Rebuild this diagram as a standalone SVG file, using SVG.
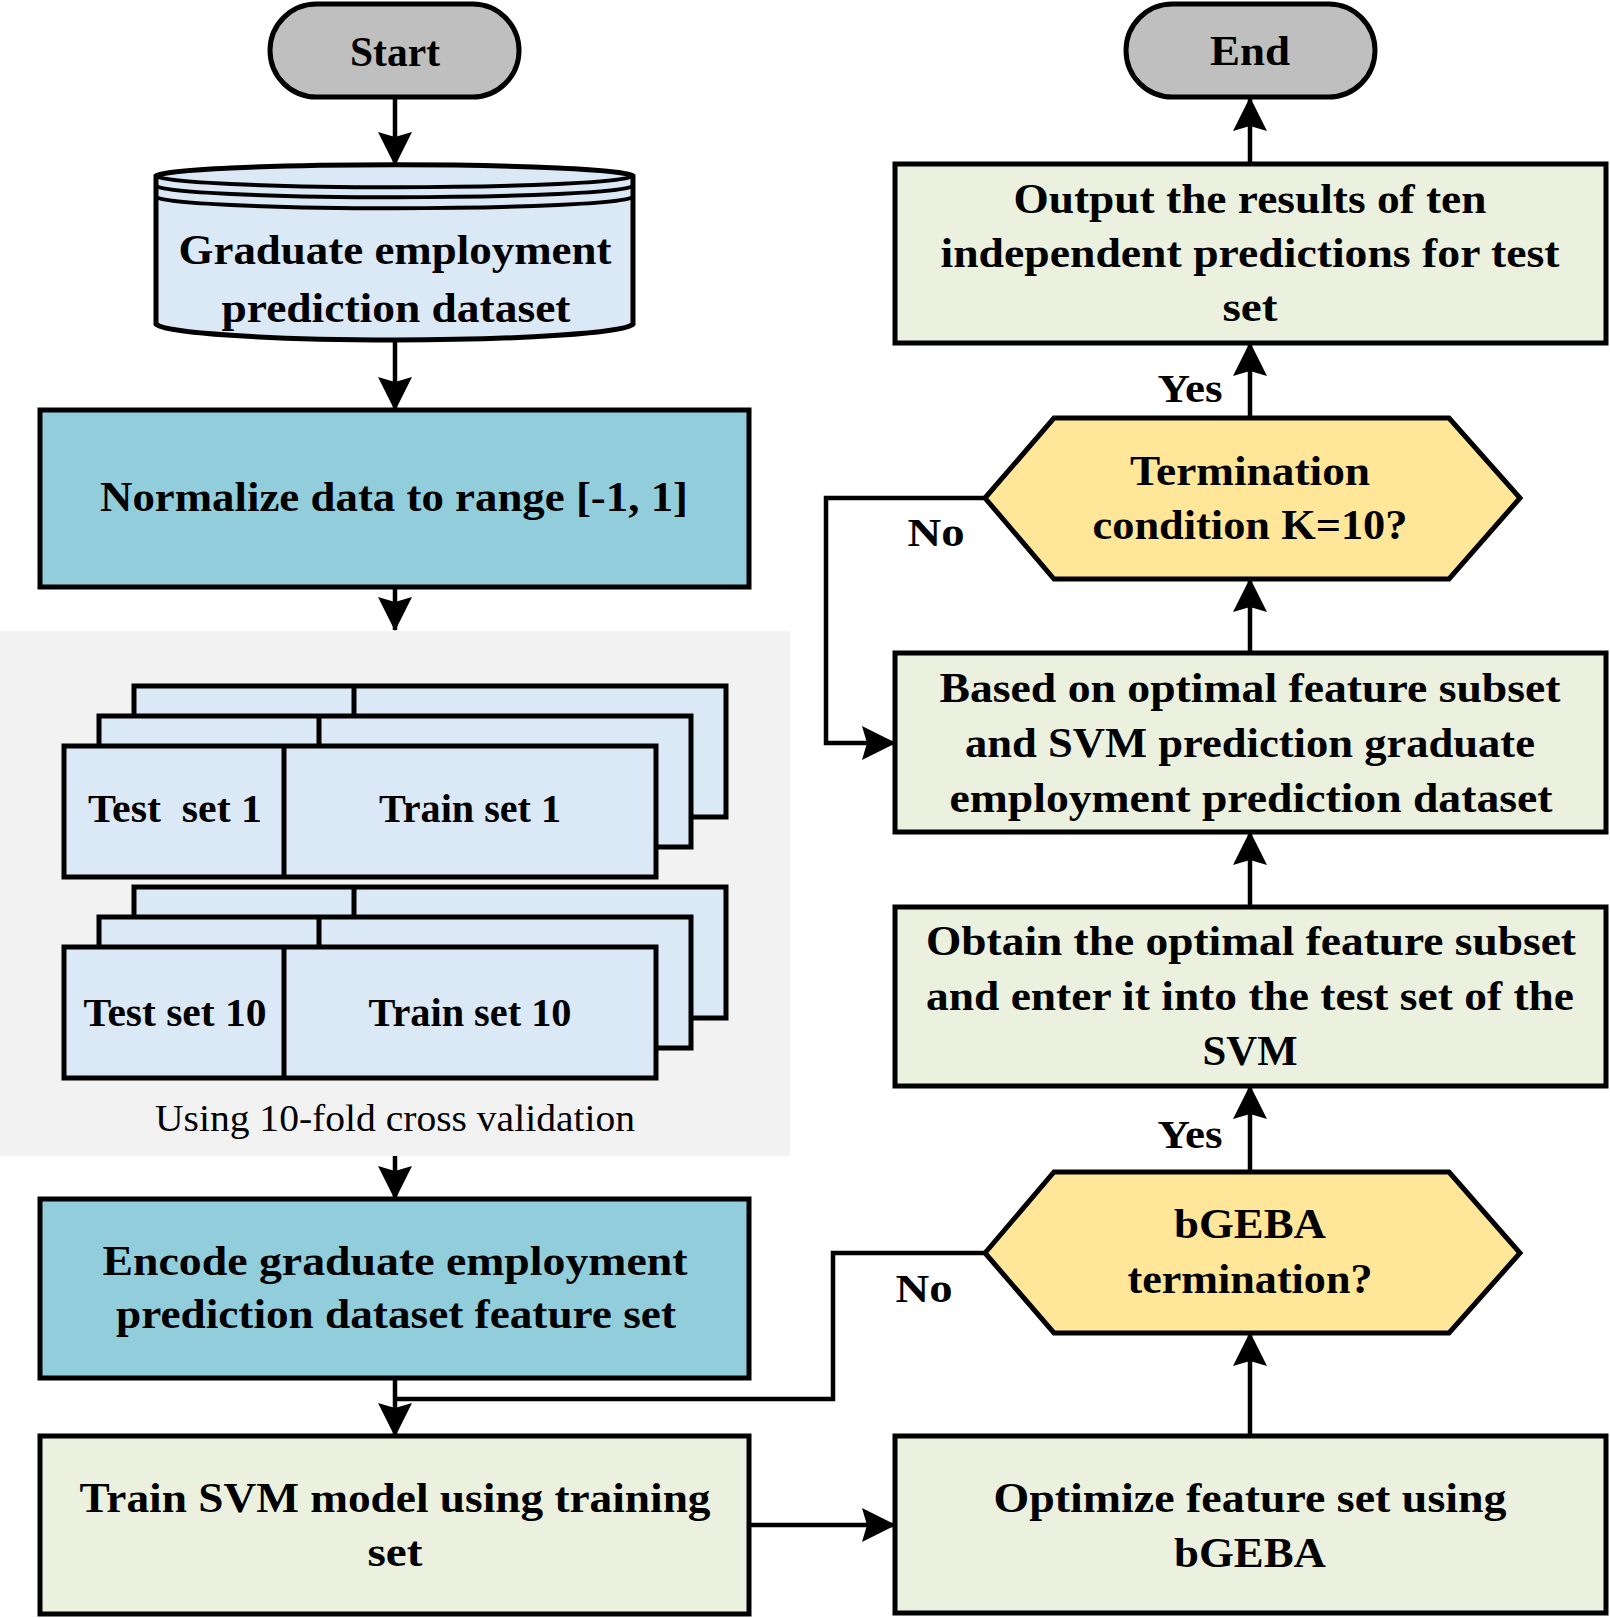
<svg xmlns="http://www.w3.org/2000/svg" width="1610" height="1618" viewBox="0 0 1610 1618">
<style>
.t{font-family:"Liberation Serif","Times New Roman",serif;font-weight:bold;font-size:43px;fill:#000;text-anchor:middle}
.s{font-size:40px}
.r{font-family:"Liberation Serif","Times New Roman",serif;font-weight:normal;font-size:38px;fill:#000;text-anchor:middle}
.box{stroke:#000;stroke-width:5;stroke-linejoin:miter}
.pill{fill:#BFBFBF;stroke:#000;stroke-width:5}
.blue{fill:#92CDDC}
.green{fill:#EBF1DE}
.light{fill:#DBE8F5}
.hex{fill:#FFE699;stroke:#000;stroke-width:5}
.c{fill:none;stroke:#000;stroke-width:4.5}
.a{marker-end:url(#ah)}
</style>
<defs>
<marker id="ah" markerUnits="userSpaceOnUse" markerWidth="34" markerHeight="36" viewBox="0 0 34 36" refX="33" refY="18" orient="auto">
<path d="M0,1 L34,18 L0,35 L5,18 Z" fill="#000"/>
</marker>
</defs>

<rect id="cv-region" x="0" y="631" width="790" height="525" fill="#F2F2F2"/>

<g id="connectors">
<path class="c a" d="M395,97 V165"/>
<path class="c a" d="M395,340 V410"/>
<path class="c a" d="M395,587 V630"/>
<path class="c a" d="M395,1156 V1199"/>
<path class="c a" d="M395,1378 V1436"/>
<path class="c" d="M985,1253 H833 V1399 H395"/>
<path class="c a" d="M749,1525 H895"/>
<path class="c a" d="M1250,1436 V1333"/>
<path class="c a" d="M1250,1172 V1086"/>
<path class="c a" d="M1250,907 V832"/>
<path class="c a" d="M1250,653 V579"/>
<path class="c a" d="M985,498 H826 V743 H895"/>
<path class="c a" d="M1250,418 V343"/>
<path class="c a" d="M1250,164 V98"/>
</g>

<g id="start">
<rect class="pill" x="270" y="4" width="249" height="93" rx="46.5"/>
<text class="t" x="395" y="66" textLength="90" lengthAdjust="spacingAndGlyphs">Start</text>
</g>

<g id="dataset">
<path class="box light" d="M156,176 A239,12 0 0 1 633,176 V324 A239,17 0 0 1 156,324 Z"/>
<path fill="none" stroke="#000" stroke-width="4" d="M156,176 A239,12 0 0 0 633,176 M156,186 A239,12 0 0 0 633,186 M156,197 A239,12 0 0 0 633,197"/>
<text class="t" x="395" y="264" textLength="433" lengthAdjust="spacingAndGlyphs">Graduate employment</text>
<text class="t" x="396" y="322" textLength="349" lengthAdjust="spacingAndGlyphs">prediction dataset</text>
</g>

<g id="normalize">
<rect class="box blue" x="40" y="410" width="709" height="177"/>
<text class="t" x="394" y="511" textLength="588" lengthAdjust="spacingAndGlyphs">Normalize data to range [-1, 1]</text>
</g>

<g id="fold1">
<rect class="box light" x="134" y="686" width="592" height="131"/>
<line x1="354" y1="686" x2="354" y2="716" stroke="#000" stroke-width="5"/>
<rect class="box light" x="99" y="716" width="592" height="131"/>
<line x1="319" y1="716" x2="319" y2="746" stroke="#000" stroke-width="5"/>
<rect class="box light" x="64" y="746" width="592" height="131"/>
<line x1="284" y1="746" x2="284" y2="877" stroke="#000" stroke-width="5"/>
<text class="t s" x="175" y="822" xml:space="preserve" textLength="174" lengthAdjust="spacingAndGlyphs">Test  set 1</text>
<text class="t s" x="470" y="822" textLength="182" lengthAdjust="spacingAndGlyphs">Train set 1</text>
</g>

<g id="fold10">
<rect class="box light" x="134" y="887" width="592" height="131"/>
<line x1="354" y1="887" x2="354" y2="917" stroke="#000" stroke-width="5"/>
<rect class="box light" x="99" y="917" width="592" height="131"/>
<line x1="319" y1="917" x2="319" y2="947" stroke="#000" stroke-width="5"/>
<rect class="box light" x="64" y="947" width="592" height="131"/>
<line x1="284" y1="947" x2="284" y2="1078" stroke="#000" stroke-width="5"/>
<text class="t s" x="175" y="1026" textLength="183" lengthAdjust="spacingAndGlyphs">Test set 10</text>
<text class="t s" x="470" y="1026" textLength="203" lengthAdjust="spacingAndGlyphs">Train set 10</text>
</g>

<text id="cv-label" class="r" x="395" y="1131" textLength="480" lengthAdjust="spacingAndGlyphs">Using 10-fold cross validation</text>

<g id="encode">
<rect class="box blue" x="40" y="1199" width="709" height="179"/>
<text class="t" x="395" y="1275" textLength="585" lengthAdjust="spacingAndGlyphs">Encode graduate employment</text>
<text class="t" x="396" y="1328" textLength="560" lengthAdjust="spacingAndGlyphs">prediction dataset feature set</text>
</g>

<g id="train">
<rect class="box green" x="40" y="1436" width="709" height="178"/>
<text class="t" x="395" y="1512" textLength="631" lengthAdjust="spacingAndGlyphs">Train SVM model using training</text>
<text class="t" x="395" y="1566" textLength="55" lengthAdjust="spacingAndGlyphs">set</text>
</g>

<g id="optimize">
<rect class="box green" x="895" y="1436" width="711" height="177"/>
<text class="t" x="1250" y="1512" textLength="513" lengthAdjust="spacingAndGlyphs">Optimize feature set using</text>
<text class="t" x="1250" y="1567" textLength="152" lengthAdjust="spacingAndGlyphs">bGEBA</text>
</g>

<g id="bgeba-check">
<path class="hex" d="M985,1253 L1054,1172 L1449,1172 L1520,1253 L1449,1333 L1054,1333 Z"/>
<text class="t" x="1250" y="1238" textLength="152" lengthAdjust="spacingAndGlyphs">bGEBA</text>
<text class="t" x="1250" y="1293" textLength="245" lengthAdjust="spacingAndGlyphs">termination?</text>
</g>

<g id="obtain">
<rect class="box green" x="895" y="907" width="711" height="179"/>
<text class="t" x="1251" y="955" textLength="650" lengthAdjust="spacingAndGlyphs">Obtain the optimal feature subset</text>
<text class="t" x="1250" y="1010" textLength="648" lengthAdjust="spacingAndGlyphs">and enter it into the test set of the</text>
<text class="t" x="1250" y="1065" textLength="95" lengthAdjust="spacingAndGlyphs">SVM</text>
</g>

<g id="based">
<rect class="box green" x="895" y="653" width="711" height="179"/>
<text class="t" x="1250" y="702" textLength="621" lengthAdjust="spacingAndGlyphs">Based on optimal feature subset</text>
<text class="t" x="1250" y="757" textLength="570" lengthAdjust="spacingAndGlyphs">and SVM prediction graduate</text>
<text class="t" x="1251" y="812" textLength="603" lengthAdjust="spacingAndGlyphs">employment prediction dataset</text>
</g>

<g id="termination-check">
<path class="hex" d="M985,498 L1054,418 L1449,418 L1520,498 L1449,579 L1054,579 Z"/>
<text class="t" x="1250" y="485" textLength="240" lengthAdjust="spacingAndGlyphs">Termination</text>
<text class="t" x="1250" y="539" textLength="315" lengthAdjust="spacingAndGlyphs">condition K=10?</text>
</g>

<g id="output">
<rect class="box green" x="895" y="164" width="711" height="179"/>
<text class="t" x="1250" y="213" textLength="473" lengthAdjust="spacingAndGlyphs">Output the results of ten</text>
<text class="t" x="1250" y="267" textLength="619" lengthAdjust="spacingAndGlyphs">independent predictions for test</text>
<text class="t" x="1250" y="321" textLength="55" lengthAdjust="spacingAndGlyphs">set</text>
</g>

<g id="end">
<rect class="pill" x="1126" y="4" width="249" height="93" rx="46.5"/>
<text class="t" x="1250" y="65" textLength="80" lengthAdjust="spacingAndGlyphs">End</text>
</g>

<g id="labels">
<text class="t s" x="1190" y="402" textLength="65" lengthAdjust="spacingAndGlyphs">Yes</text>
<text class="t s" x="936" y="546" textLength="57" lengthAdjust="spacingAndGlyphs">No</text>
<text class="t s" x="1190" y="1148" textLength="65" lengthAdjust="spacingAndGlyphs">Yes</text>
<text class="t s" x="924" y="1302" textLength="57" lengthAdjust="spacingAndGlyphs">No</text>
</g>
</svg>
